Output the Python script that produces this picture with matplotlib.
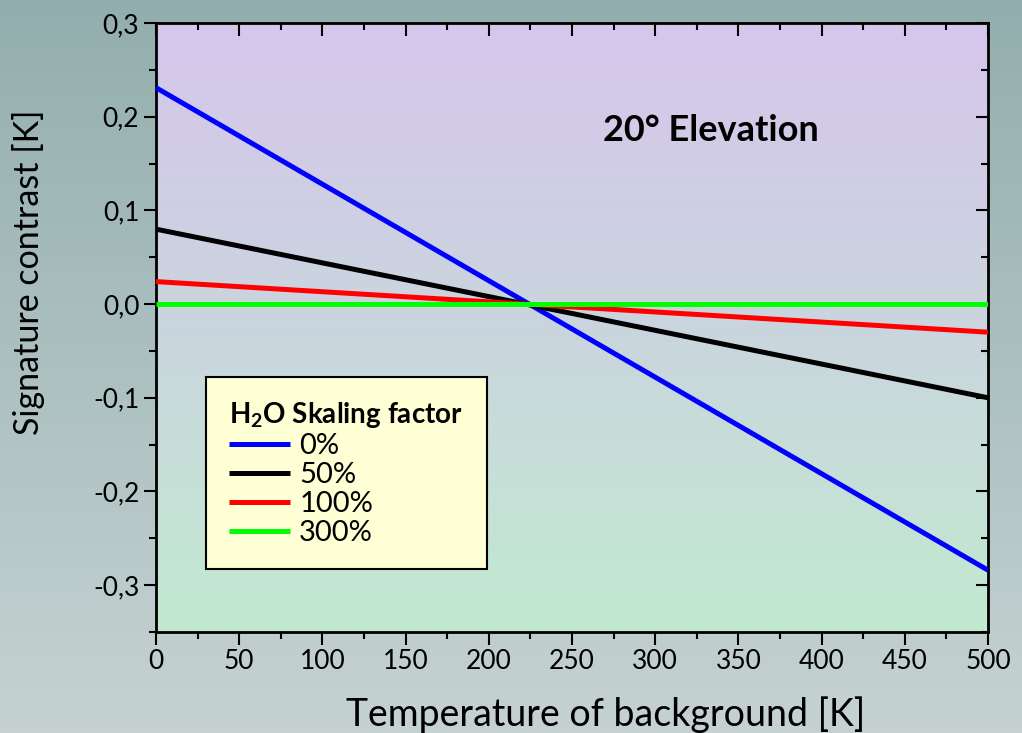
import numpy as np
import matplotlib
matplotlib.use("Agg")
import matplotlib.pyplot as plt
from matplotlib.colors import LinearSegmentedColormap

plt.rcParams['font.family'] = ['Lato', 'DejaVu Sans']
plt.rcParams['mathtext.fontset'] = 'custom'
plt.rcParams['mathtext.rm'] = 'Lato'
plt.rcParams['mathtext.bf'] = 'Lato:bold'

# data (straight lines, end points)
temperature = [0, 500]
labels = ['0%', '50%', '100%', '300%']
contrast = {
    '0%': [0.231, -0.284],
    '50%': [0.080, -0.100],
    '100%': [0.024, -0.030],
    '300%': [0.0, 0.0],
}
colors = ['#0000ff', '#000000', '#ff0000', '#00ff00']

fig = plt.figure(figsize=(10.22, 7.33), dpi=100)

# figure background gradient
bg = fig.add_axes([0, 0, 1, 1], zorder=-10)
bg_cmap = LinearSegmentedColormap.from_list('bg', ['#93aeae', '#c6d2d2'])
bg.imshow(np.linspace(0, 1, 256).reshape(-1, 1), cmap=bg_cmap, aspect='auto',
          extent=[0, 1, 0, 1], origin='upper')
bg.axis('off')

ax = fig.add_axes([0.1526, 0.1378, 0.8141, 0.8308])
ax.set_xlim(0, 500)
ax.set_ylim(-0.35, 0.3)

# plot area gradient
area_cmap = LinearSegmentedColormap.from_list('area', ['#d6c6ec', '#cad5de', '#c2ead0'])
ax.imshow(np.linspace(0, 1, 256).reshape(-1, 1), cmap=area_cmap, aspect='auto',
          extent=[0, 500, -0.35, 0.3], origin='upper', zorder=0)

for lab, c in zip(labels, colors):
    ax.plot(temperature, contrast[lab], color=c, lw=3.6, label=lab, zorder=3,
            solid_capstyle='butt')

ax.set_xticks(np.arange(0, 501, 50))
ax.set_xticks(np.arange(0, 501, 25), minor=True)
ax.set_yticks(np.arange(-0.3, 0.31, 0.1))
ax.set_yticks(np.arange(-0.35, 0.31, 0.05), minor=True)
ax.set_yticklabels([f'{v:.1f}'.replace('.', ',').replace('-0,0', '0,0') for v in np.arange(-0.3, 0.31, 0.1)])

ax.tick_params(axis='both', which='major', direction='out', length=9, width=1.5,
               labelsize=19, pad=3)
ax.tick_params(axis='both', which='minor', direction='out', length=5, width=1.5)
for spine in ax.spines.values():
    spine.set_linewidth(2)

# inward ticks on top and right
top = ax.secondary_xaxis('top')
top.set_xticks(np.arange(0, 501, 50))
top.set_xticks(np.arange(0, 501, 25), minor=True)
top.tick_params(which='major', direction='in', length=9, width=1.5, labeltop=False)
top.tick_params(which='minor', direction='in', length=5, width=1.5)
right = ax.secondary_yaxis('right')
right.set_yticks(np.arange(-0.3, 0.31, 0.1))
right.set_yticks(np.arange(-0.35, 0.31, 0.05), minor=True)
right.tick_params(which='major', direction='in', length=9, width=1.5, labelright=False)
right.tick_params(which='minor', direction='in', length=5, width=1.5)

ax.set_xlabel('Temperature of background [K]', fontsize=27, labelpad=16)
ax.xaxis.set_label_coords(0.541, -0.105)
ax.set_ylabel('Signature contrast [K]', fontsize=24.5)
ax.yaxis.set_label_coords(-0.133, 0.591)

ax.text(0.667, 0.823, '20° Elevation', transform=ax.transAxes, fontsize=26,
        fontweight='bold', ha='center', va='center')

leg = ax.legend(loc='lower left', bbox_to_anchor=(0.06, 0.103),
                title=r'H$_\mathbf{2}$O Skaling factor', alignment='left',
                title_fontproperties={'size': 20, 'weight': 'bold'},
                fontsize=21, handlelength=2.1, handletextpad=0.3, labelspacing=0.1,
                borderpad=0.8, borderaxespad=0, fancybox=False, framealpha=1,
                facecolor='#ffffd6', edgecolor='black')
leg.get_frame().set_linewidth(1.5)
leg.set_zorder(5)

fig.savefig('out.png', dpi=100)
